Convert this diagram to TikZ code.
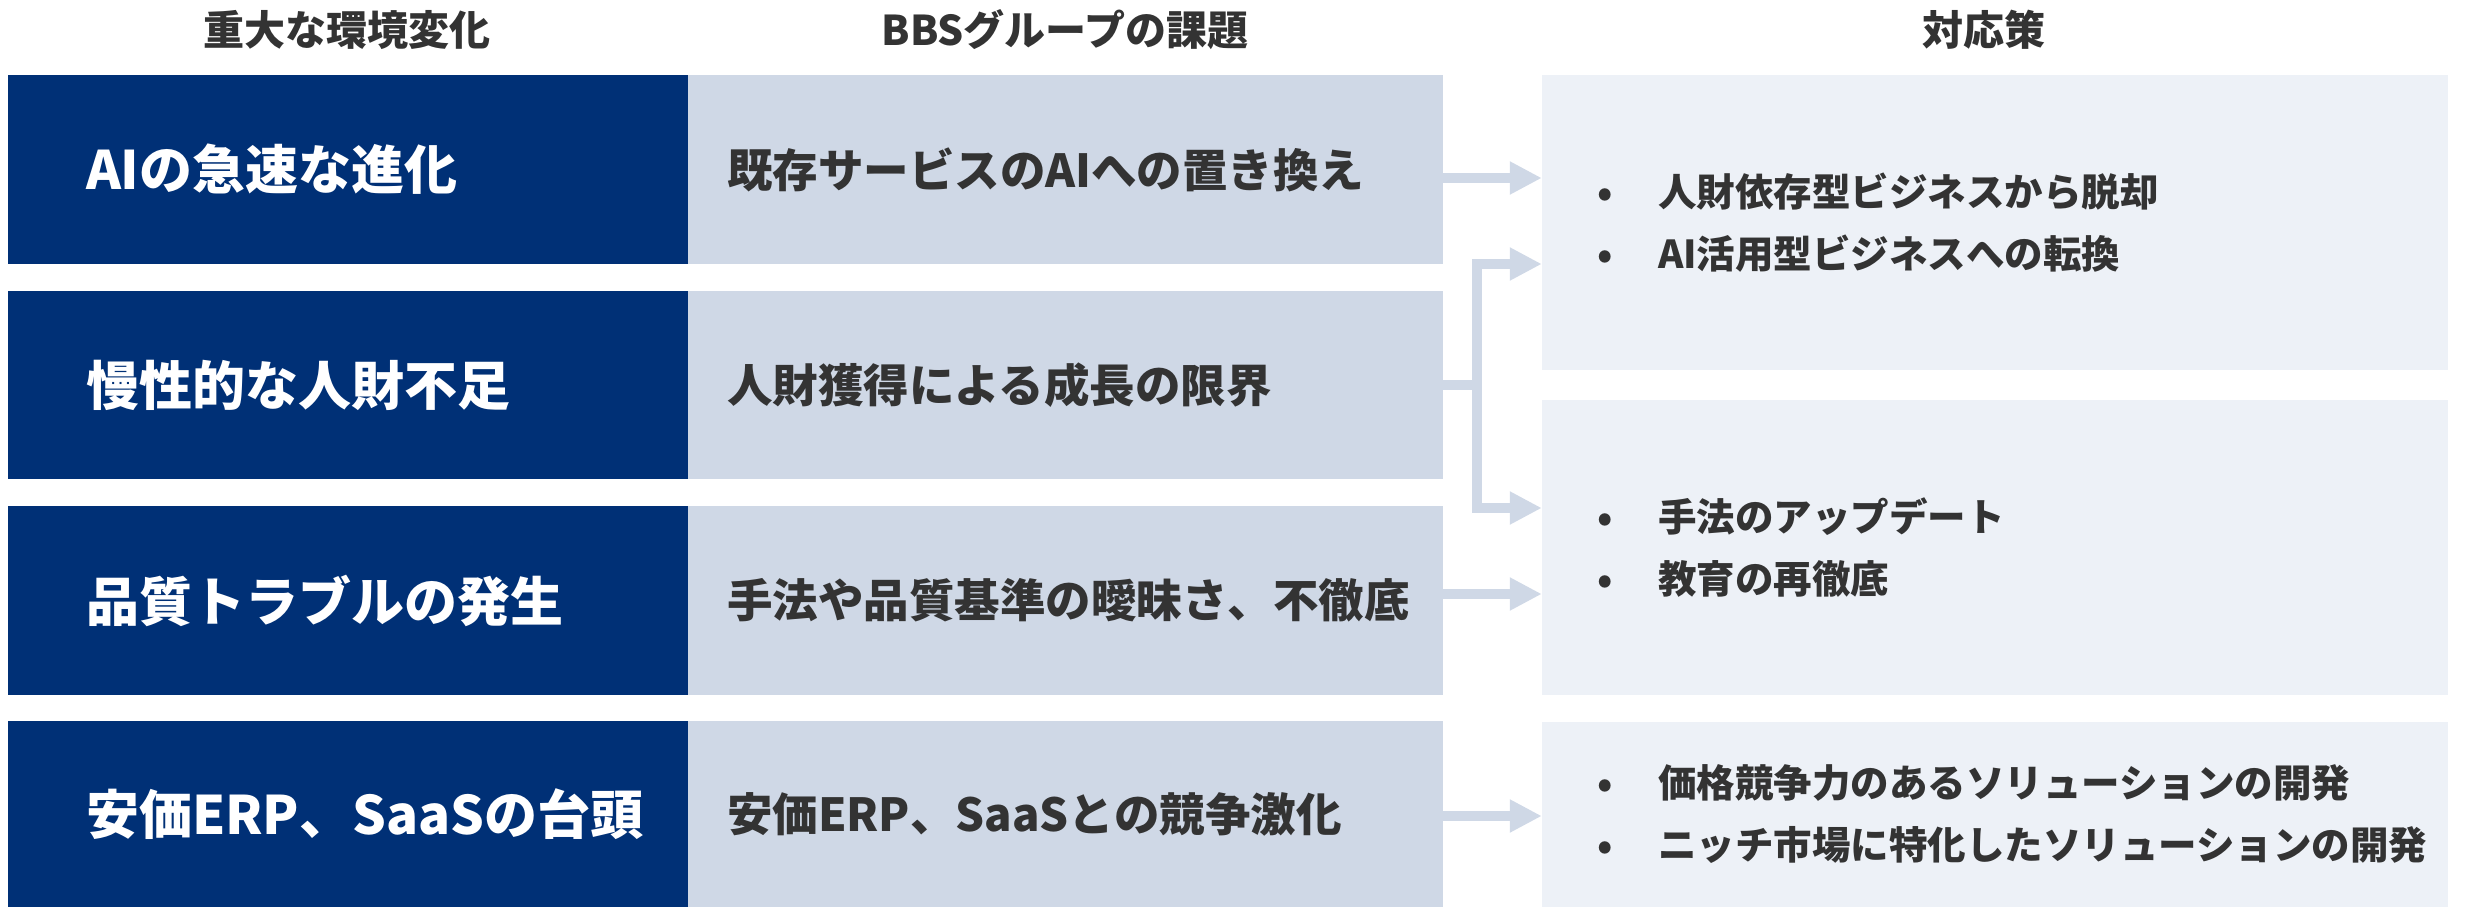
\documentclass[tikz,border=0pt]{standalone}
\usepackage{fontspec}
\newfontfamily\jp{Noto Sans CJK JP}
\usetikzlibrary{arrows.meta}
\definecolor{navy}{HTML}{003076}
\definecolor{lightbox}{HTML}{CFD8E6}
\definecolor{paleblue}{HTML}{EDF1F7}
\definecolor{txtgray}{HTML}{333333}
\begin{document}
\begin{tikzpicture}[x=1pt,y=-1pt,
  header/.style={text=txtgray,font=\jp\bfseries\fontsize{41}{48}\selectfont,inner sep=0pt},
  darkbox/.style={fill=navy,text=white,draw=none,minimum height=189pt,text width=680pt,inner xsep=0pt,inner ysep=0pt,align=left,
    font=\jp\bfseries\fontsize{53}{60}\selectfont},
  midbox/.style={fill=lightbox,text=txtgray,draw=none,minimum height=189pt,text width=755pt,inner xsep=0pt,inner ysep=0pt,align=left,
    font=\jp\bfseries\fontsize{45.5}{54}\selectfont},
  solbox/.style={fill=paleblue,text=txtgray,draw=none,text width=906pt,inner xsep=0pt,inner ysep=0pt,align=left,
    font=\jp\bfseries\fontsize{38.5}{62}\selectfont},
  arr/.style={draw=lightbox,line width=10pt,-{Triangle[length=32pt,width=31pt]}}
]
\useasboundingbox (0,0) rectangle (2465,907);
% headers
\node[header] (h1) at (347,30) {重大な環境変化};
\node[header] (h2) at (1065,30) {BBSグループの課題};
\node[header] (h3) at (1984,30) {対応策};
% left column
\node[darkbox] (d1) at (348,169.5) {\hspace*{78pt}AIの急速な進化};
\node[darkbox,minimum height=188pt] (d2) at (348,385) {\hspace*{78pt}慢性的な人財不足};
\node[darkbox] (d3) at (348,600.5) {\hspace*{78pt}品質トラブルの発生};
\node[darkbox,minimum height=186pt] (d4) at (348,814) {\hspace*{78pt}安価ERP、SaaSの台頭};
% middle column
\node[midbox] (m1) at (1065.5,169.5) {\hspace*{39pt}既存サービスのAIへの置き換え};
\node[midbox,minimum height=188pt] (m2) at (1065.5,385) {\hspace*{39pt}人財獲得による成長の限界};
\node[midbox] (m3) at (1065.5,600.5) {\hspace*{39pt}手法や品質基準の曖昧さ、不徹底};
\node[midbox,minimum height=186pt] (m4) at (1065.5,814) {\hspace*{39pt}安価ERP、SaaSとの競争激化};
% right column
\node[solbox,minimum height=295pt] (r1) at (1995,222.5)
  {\hspace*{55pt}\makebox[61pt][l]{•}人財依存型ビジネスから脱却\\
   \hspace*{55pt}\makebox[61pt][l]{•}AI活用型ビジネスへの転換};
\node[solbox,minimum height=295pt] (r2) at (1995,547.5)
  {\hspace*{55pt}\makebox[61pt][l]{•}手法のアップデート\\
   \hspace*{55pt}\makebox[61pt][l]{•}教育の再徹底};
\node[solbox,minimum height=185pt] (r3) at (1995,814.5)
  {\hspace*{55pt}\makebox[61pt][l]{•}価格競争力のあるソリューションの開発\\
   \hspace*{55pt}\makebox[61pt][l]{•}ニッチ市場に特化したソリューションの開発};
% connectors
\coordinate (j) at (1477,385);
\draw[arr] ([yshift=-8.5pt]m1.east) -- ([yshift=-8.5pt]m1.east -| r1.west);
\draw[arr] (m2.east) -- (j) |- ([yshift=-41.5pt]r1.west);
\draw[arr] (m2.east) -- (j) |- ([yshift=39.5pt]r2.west);
\draw[arr] ([yshift=6.5pt]m3.east) -- ([yshift=6.5pt]m3.east -| r2.west);
\draw[arr] ([yshift=-2pt]m4.east) -- ([yshift=-2pt]m4.east -| r3.west);
\end{tikzpicture}
\end{document}
